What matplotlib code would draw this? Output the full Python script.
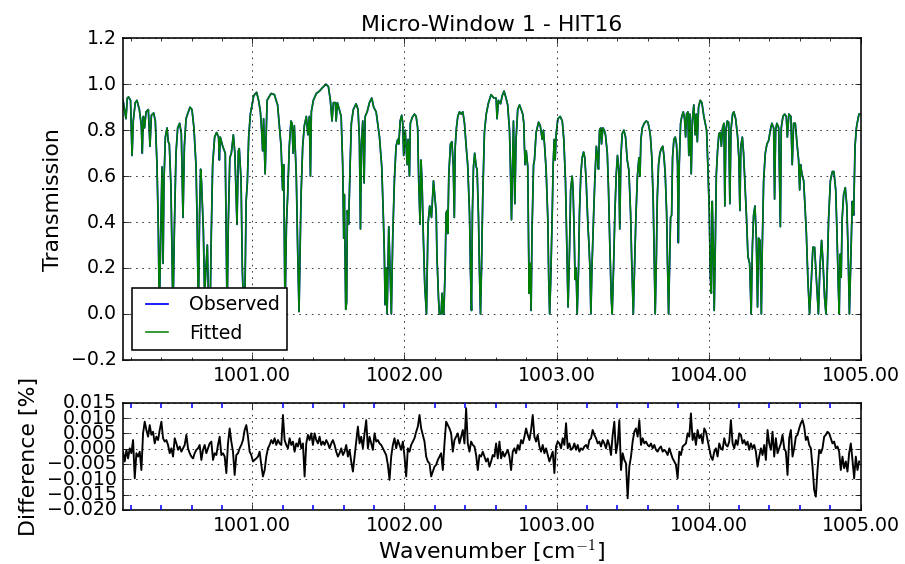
import numpy as np
import matplotlib.pyplot as plt
from matplotlib.ticker import MultipleLocator, FuncFormatter

# transmission spectrum (wavenumber in cm-1)
wavenumber = [
    1000.150, 1000.169, 1000.178, 1000.186, 1000.199, 1000.209, 1000.217, 1000.230, 1000.241, 1000.257,
    1000.270, 1000.276, 1000.283, 1000.291, 1000.301, 1000.316, 1000.327, 1000.336, 1000.351, 1000.362,
    1000.373, 1000.382, 1000.388, 1000.397, 1000.406, 1000.413, 1000.419, 1000.428, 1000.439, 1000.447,
    1000.454, 1000.465, 1000.472, 1000.478, 1000.487, 1000.498, 1000.509, 1000.522, 1000.533, 1000.544,
    1000.553, 1000.564, 1000.574, 1000.590, 1000.603, 1000.616, 1000.630, 1000.638, 1000.645, 1000.653,
    1000.660, 1000.666, 1000.678, 1000.686, 1000.695, 1000.704, 1000.713, 1000.722, 1000.730, 1000.739,
    1000.752, 1000.765, 1000.778, 1000.783, 1000.789, 1000.805, 1000.822, 1000.834, 1000.842, 1000.852,
    1000.862, 1000.875, 1000.885, 1000.899, 1000.908, 1000.914, 1000.926, 1000.934, 1000.943, 1000.952,
    1000.959, 1000.967, 1000.976, 1000.987, 1001.009, 1001.028, 1001.041, 1001.053, 1001.061, 1001.068,
    1001.074, 1001.084, 1001.097, 1001.123, 1001.145, 1001.166, 1001.189, 1001.199, 1001.206, 1001.215,
    1001.224, 1001.232, 1001.243, 1001.254, 1001.261, 1001.268, 1001.276, 1001.289, 1001.299, 1001.307,
    1001.320, 1001.331, 1001.342, 1001.355, 1001.365, 1001.375, 1001.382, 1001.388, 1001.401, 1001.421,
    1001.441, 1001.461, 1001.484, 1001.500, 1001.513, 1001.524, 1001.533, 1001.546, 1001.551, 1001.559,
    1001.572, 1001.584, 1001.594, 1001.601, 1001.605, 1001.614, 1001.620, 1001.625, 1001.633, 1001.643,
    1001.651, 1001.664, 1001.682, 1001.695, 1001.704, 1001.711, 1001.717, 1001.726, 1001.735, 1001.742,
    1001.755, 1001.770, 1001.785, 1001.798, 1001.814, 1001.824, 1001.836, 1001.851, 1001.862, 1001.868,
    1001.873, 1001.880, 1001.886, 1001.897, 1001.906, 1001.914, 1001.923, 1001.934, 1001.945, 1001.956,
    1001.963, 1001.972, 1001.982, 1001.989, 1001.995, 1002.005, 1002.018, 1002.024, 1002.033, 1002.039,
    1002.051, 1002.066, 1002.077, 1002.087, 1002.094, 1002.103, 1002.109, 1002.116, 1002.125, 1002.134,
    1002.145, 1002.155, 1002.166, 1002.178, 1002.191, 1002.209, 1002.214, 1002.224, 1002.230, 1002.241,
    1002.248, 1002.254, 1002.259, 1002.268, 1002.274, 1002.281, 1002.285, 1002.292, 1002.303, 1002.312,
    1002.321, 1002.328, 1002.334, 1002.342, 1002.351, 1002.362, 1002.373, 1002.384, 1002.395, 1002.406,
    1002.416, 1002.428, 1002.434, 1002.441, 1002.447, 1002.454, 1002.462, 1002.472, 1002.478, 1002.487,
    1002.493, 1002.500, 1002.507, 1002.515, 1002.526, 1002.538, 1002.553, 1002.570, 1002.588, 1002.603,
    1002.609, 1002.618, 1002.632, 1002.643, 1002.655, 1002.668, 1002.679, 1002.691, 1002.697, 1002.704,
    1002.711, 1002.717, 1002.726, 1002.734, 1002.745, 1002.757, 1002.768, 1002.778, 1002.785, 1002.789,
    1002.794, 1002.801, 1002.811, 1002.820, 1002.826, 1002.833, 1002.839, 1002.849, 1002.855, 1002.866,
    1002.882, 1002.893, 1002.906, 1002.914, 1002.922, 1002.932, 1002.943, 1002.949, 1002.955, 1002.962,
    1002.972, 1002.978, 1002.985, 1002.991, 1002.998, 1003.009, 1003.024, 1003.038, 1003.048, 1003.059,
    1003.068, 1003.076, 1003.086, 1003.093, 1003.103, 1003.109, 1003.116, 1003.122, 1003.129, 1003.136,
    1003.145, 1003.151, 1003.160, 1003.169, 1003.178, 1003.186, 1003.195, 1003.207, 1003.213, 1003.220,
    1003.226, 1003.233, 1003.239, 1003.246, 1003.253, 1003.262, 1003.270, 1003.276, 1003.283, 1003.291,
    1003.296, 1003.305, 1003.314, 1003.322, 1003.334, 1003.342, 1003.351, 1003.360, 1003.366, 1003.375,
    1003.384, 1003.393, 1003.401, 1003.410, 1003.416, 1003.423, 1003.432, 1003.443, 1003.454, 1003.465,
    1003.476, 1003.487, 1003.495, 1003.505, 1003.513, 1003.522, 1003.532, 1003.542, 1003.549, 1003.555,
    1003.564, 1003.577, 1003.590, 1003.601, 1003.612, 1003.618, 1003.627, 1003.636, 1003.643, 1003.649,
    1003.656, 1003.663, 1003.671, 1003.680, 1003.689, 1003.699, 1003.706, 1003.715, 1003.724, 1003.730,
    1003.737, 1003.743, 1003.750, 1003.757, 1003.763, 1003.772, 1003.781, 1003.789, 1003.796, 1003.801,
    1003.807, 1003.816, 1003.824, 1003.834, 1003.842, 1003.849, 1003.855, 1003.864, 1003.870, 1003.877,
    1003.886, 1003.893, 1003.903, 1003.912, 1003.919, 1003.926, 1003.934, 1003.945, 1003.956, 1003.969,
    1003.978, 1003.987, 1003.995, 1004.005, 1004.011, 1004.018, 1004.024, 1004.031, 1004.037, 1004.044,
    1004.051, 1004.059, 1004.068, 1004.077, 1004.084, 1004.092, 1004.101, 1004.107, 1004.114, 1004.123,
    1004.132, 1004.140, 1004.147, 1004.158, 1004.166, 1004.178, 1004.191, 1004.199, 1004.206, 1004.212,
    1004.222, 1004.230, 1004.241, 1004.250, 1004.259, 1004.270, 1004.280, 1004.288, 1004.296, 1004.305,
    1004.314, 1004.322, 1004.329, 1004.338, 1004.347, 1004.353, 1004.362, 1004.373, 1004.384, 1004.395,
    1004.406, 1004.416, 1004.428, 1004.434, 1004.441, 1004.449, 1004.461, 1004.472, 1004.478, 1004.489,
    1004.500, 1004.511, 1004.518, 1004.528, 1004.541, 1004.550, 1004.559, 1004.570, 1004.583, 1004.592,
    1004.599, 1004.605, 1004.614, 1004.625, 1004.634, 1004.643, 1004.653, 1004.664, 1004.676, 1004.686,
    1004.697, 1004.709, 1004.722, 1004.732, 1004.743, 1004.752, 1004.763, 1004.772, 1004.781, 1004.789,
    1004.801, 1004.814, 1004.824, 1004.836, 1004.844, 1004.853, 1004.859, 1004.865, 1004.872, 1004.878,
    1004.888, 1004.899, 1004.909, 1004.918, 1004.926, 1004.936, 1004.945, 1004.954, 1004.963, 1004.972,
    1004.980, 1004.989, 1005.000,
]

transmission = [
    0.93, 0.85, 0.94, 0.945, 0.93, 0.69, 0.84, 0.92, 0.93, 0.89,
    0.82, 0.70, 0.86, 0.81, 0.88, 0.89, 0.73, 0.865, 0.875, 0.84,
    0.65, 0.36, 0.00, 0.32, 0.64, 0.22, 0.58, 0.77, 0.81, 0.75,
    0.74, 0.55, 0.26, 0.00, 0.36, 0.70, 0.81, 0.83, 0.785, 0.42,
    0.73, 0.85, 0.87, 0.90, 0.89, 0.81, 0.64, 0.36, 0.00, 0.44,
    0.63, 0.57, 0.36, 0.08, 0.20, 0.30, 0.02, 0.00, 0.35, 0.65,
    0.77, 0.79, 0.77, 0.67, 0.77, 0.73, 0.70, 0.00, 0.40, 0.68,
    0.70, 0.78, 0.70, 0.39, 0.71, 0.72, 0.58, 0.20, 0.00, 0.12,
    0.49, 0.57, 0.77, 0.87, 0.95, 0.965, 0.93, 0.88, 0.80, 0.71,
    0.85, 0.61, 0.93, 0.96, 0.955, 0.91, 0.73, 0.54, 0.65, 0.00,
    0.39, 0.51, 0.73, 0.84, 0.83, 0.70, 0.82, 0.60, 0.25, 0.01,
    0.51, 0.73, 0.82, 0.86, 0.78, 0.86, 0.60, 0.88, 0.93, 0.96,
    0.97, 0.985, 1.00, 0.99, 0.93, 0.84, 0.92, 0.92, 0.84, 0.92,
    0.89, 0.86, 0.65, 0.33, 0.52, 0.02, 0.05, 0.45, 0.39, 0.65,
    0.83, 0.89, 0.915, 0.89, 0.76, 0.37, 0.73, 0.84, 0.57, 0.86,
    0.88, 0.92, 0.94, 0.90, 0.88, 0.83, 0.77, 0.64, 0.41, 0.26,
    0.04, 0.20, 0.00, 0.38, 0.17, 0.00, 0.33, 0.58, 0.73, 0.76,
    0.74, 0.84, 0.865, 0.83, 0.69, 0.80, 0.65, 0.76, 0.60, 0.83,
    0.855, 0.87, 0.86, 0.81, 0.58, 0.39, 0.67, 0.57, 0.32, 0.12,
    0.00, 0.39, 0.47, 0.42, 0.58, 0.44, 0.25, 0.07, 0.00, 0.00,
    0.09, 0.00, 0.00, 0.20, 0.44, 0.45, 0.35, 0.61, 0.74, 0.75,
    0.65, 0.42, 0.73, 0.81, 0.86, 0.88, 0.87, 0.88, 0.83, 0.73,
    0.65, 0.44, 0.20, 0.015, 0.44, 0.64, 0.70, 0.64, 0.63, 0.42,
    0.20, 0.00, 0.20, 0.51, 0.79, 0.87, 0.92, 0.955, 0.94, 0.94,
    0.85, 0.93, 0.915, 0.95, 0.97, 0.94, 0.91, 0.80, 0.64, 0.41,
    0.65, 0.84, 0.48, 0.76, 0.89, 0.91, 0.89, 0.87, 0.83, 0.73,
    0.65, 0.71, 0.64, 0.09, 0.22, 0.015, 0.36, 0.65, 0.67, 0.79,
    0.835, 0.82, 0.76, 0.80, 0.73, 0.625, 0.41, 0.15, 0.00, 0.15,
    0.44, 0.65, 0.76, 0.67, 0.785, 0.85, 0.86, 0.84, 0.76, 0.58,
    0.29, 0.03, 0.29, 0.54, 0.60, 0.54, 0.36, 0.15, 0.20, 0.00,
    0.20, 0.44, 0.61, 0.68, 0.705, 0.68, 0.58, 0.38, 0.31, 0.20,
    0.00, 0.20, 0.33, 0.47, 0.60, 0.73, 0.68, 0.63, 0.80, 0.81,
    0.74, 0.81, 0.80, 0.78, 0.70, 0.54, 0.29, 0.07, 0.00, 0.20,
    0.44, 0.61, 0.69, 0.625, 0.37, 0.68, 0.785, 0.80, 0.77, 0.67,
    0.625, 0.44, 0.22, 0.00, 0.20, 0.42, 0.60, 0.68, 0.60, 0.76,
    0.81, 0.83, 0.84, 0.835, 0.80, 0.77, 0.68, 0.49, 0.22, 0.00,
    0.22, 0.51, 0.65, 0.70, 0.72, 0.73, 0.69, 0.61, 0.44, 0.22,
    0.00, 0.20, 0.42, 0.43, 0.68, 0.76, 0.77, 0.74, 0.65, 0.31,
    0.65, 0.83, 0.86, 0.88, 0.85, 0.77, 0.87, 0.88, 0.69, 0.87,
    0.61, 0.84, 0.91, 0.78, 0.87, 0.75, 0.90, 0.93, 0.92, 0.86,
    0.83, 0.80, 0.65, 0.44, 0.17, 0.09, 0.49, 0.29, 0.015, 0.29,
    0.61, 0.71, 0.785, 0.79, 0.73, 0.81, 0.83, 0.47, 0.80, 0.84,
    0.835, 0.48, 0.80, 0.87, 0.88, 0.85, 0.77, 0.68, 0.45, 0.73,
    0.77, 0.70, 0.54, 0.41, 0.25, 0.22, 0.00, 0.29, 0.43, 0.47,
    0.33, 0.03, 0.33, 0.32, 0.00, 0.29, 0.58, 0.70, 0.74, 0.755,
    0.80, 0.83, 0.81, 0.50, 0.80, 0.83, 0.81, 0.38, 0.81, 0.86,
    0.87, 0.86, 0.77, 0.87, 0.86, 0.65, 0.83, 0.83, 0.73, 0.67,
    0.54, 0.65, 0.61, 0.58, 0.47, 0.35, 0.15, 0.00, 0.15, 0.29,
    0.29, 0.15, 0.00, 0.20, 0.32, 0.23, 0.07, 0.00, 0.20, 0.41,
    0.58, 0.62, 0.62, 0.54, 0.36, 0.12, 0.00, 0.26, 0.16, 0.41,
    0.52, 0.55, 0.47, 0.26, 0.00, 0.26, 0.49, 0.43, 0.73, 0.81,
    0.84, 0.87, 0.87,
]

# observed and fitted overlap to within line width
observed = transmission
fitted = transmission

# residual (observed - fitted), in units of 1e-3 %, on the instrument grid
diff_milli = [
    -1.0, -4.2, -0.4, -3.2, 0.1, -1.5, 2.8, -9.7, -1.5, -2.6,
    -1.0, -7.0, 5.0, 8.8, 6.1, 3.9, 7.7, 4.5, 5.5, 1.7,
    3.9, 2.8, 6.1, 8.8, 3.4, 2.3, 2.8, 1.2, -1.5, 0.1,
    -2.6, 3.4, 1.7, -0.4, 0.7, -1.0, 0.1, 1.2, 4.5, 0.1,
    -1.5, -2.6, -3.2, -1.5, -0.4, 0.1, 1.2, -3.7, -0.4, 1.2,
    -1.5, 0.1, 1.7, 2.3, -3.7, -1.5, -2.1, 1.2, 3.9, -2.1,
    -1.5, -2.6, -8.0, 1.7, 6.6, 2.3, -1.0, -8.6, -2.1, -1.5,
    0.1, 1.2, 2.8, 6.1, 7.7, 3.9, -1.0, -2.1, -4.2, -3.7,
    -3.2, -2.6, -1.0, -5.3, -9.1, -7.0, -2.6, 0.1, 1.2, 2.8,
    1.7, 3.4, 1.2, 2.8, 1.7, 1.2, 11.0, 2.8, 1.2, 0.1,
    3.4, 1.2, 2.3, -1.0, 1.7, 0.7, 3.4, 0.1, 1.7, -9.1,
    1.7, 4.5, 2.8, 5.0, 1.2, 5.0, 2.8, 1.7, 3.9, 1.2,
    2.3, 1.2, 2.8, 1.7, 0.1, 1.7, 2.8, 1.2, -1.0, -2.6,
    -1.5, 0.1, -2.1, -1.0, 1.2, -2.6, -0.4, -4.2, -7.5, -2.6,
    2.3, 7.2, 1.7, 3.9, 0.1, 5.0, 9.3, 0.1, 3.9, 1.7,
    -0.4, 5.0, 2.3, 2.8, 1.7, 1.2, 0.1, -1.0, -2.1, -5.3,
    -10.2, -2.6, 1.2, 3.4, 0.1, 2.8, 1.2, -0.4, 2.3, -2.6,
    -9.1, 0.1, -1.0, 1.2, 2.3, 3.4, 5.5, 7.2, 11.0, 6.6,
    4.5, 2.3, -2.6, -4.2, -4.8, -9.1, -7.5, -5.9, -5.3, -3.7,
    -2.6, -1.5, -7.0, 1.7, 8.8, 7.7, 6.6, 5.0, -1.0, 2.8,
    3.9, 5.0, 1.7,
    3.9, 6.1, 1.7, 13.2, 1.7, -1.0, 2.3, 1.2, 0.7, -2.1,
    -7.0, -2.1, -2.6, -1.0, -2.6, -4.2, -3.2, -5.9, -4.2, -2.1,
    -2.6, 1.7, -3.2, 2.3, -3.2, -1.0, -2.6, -1.5, -0.4, -2.6,
    -7.0, -1.0, 0.1, -1.5, 1.2, -0.4, 2.8, 1.7, 3.9, 6.6,
    4.5, 2.8, 6.1, 11.0, 3.9, 2.3, 4.5, 0.7, -1.0, 1.2,
    -1.5, 0.1, -2.1, -4.2, -2.6, -1.0, -8.0, 0.7, 2.3, 1.7,
    0.1, 3.4, 1.2, 8.3, 0.1, 1.7, -0.4, 0.1, 1.7, -0.4,
    1.2, -1.0, 0.1, -0.4, 0.7, 1.2, 0.1, 2.8, 3.4, 6.1,
    4.5, 3.4, 1.7, 2.3, 0.7, 2.8, 1.7, 0.1, 2.8, 1.2,
    -2.1, 4.5, 8.8, -1.5, 1.7, 9.3, -7.0, -1.5, -3.7, -4.8,
    -16.2, -5.9, -2.6, 2.3, 5.5, 6.6, 3.9, 9.3, 1.2, 3.4,
    1.7, 2.3, 1.2, 0.7, 1.7, 0.1, 1.2, -0.4, -1.0, 0.1,
    0.7, -1.0, -0.4, -1.0, -2.1, 0.1, -1.5, -3.2, -4.2, -5.3,
    -9.7, -1.0, -2.1, 0.7, 1.2, 1.7, 5.0, 3.9, 11.5, 2.8,
    5.0, 1.2, 6.1, 3.4, 4.5, 1.7, 6.6, 5.5, 2.8, 0.1,
    -2.6, -3.7, -1.0, 0.1, -2.6, 1.7, 0.1, -0.4, 3.4, 1.2,
    0.7, 2.3, 9.3, 1.7, 0.1, 2.8, 1.2, 5.0, 4.5, 1.7,
    2.8, 1.2, 2.3, -0.4, 1.7, 0.1, 1.2, -1.0, -5.9, -2.6,
    0.1, -2.1, 1.2, -3.7, 6.1, 1.7, -0.4, 5.5, -2.6, 3.4,
    -1.5, 0.1, 1.7, 4.5, 0.1, -1.0, -8.6, 3.4, 6.1, -2.6,
    0.1, 3.9, 4.5, 6.6, 8.3, 9.3, 7.2, 2.8, 3.9, 1.2,
    0.1, -5.9, -13.5, -15.7, -7.0, -0.4, -1.5, 0.1, 3.9, 4.5,
    5.5, 5.0, 3.4, 1.7, 2.3, 0.1, 0.7, -1.0, -7.0, -2.6,
    -6.4, -4.2, -7.5, -1.5, 1.7, -3.7, -9.7, -2.6, -7.0, -4.2,
]
difference = np.array(diff_milli) / 1000.0
diff_wn = np.linspace(1000.15, 1004.99, len(difference))


def fmt(pattern):
    return FuncFormatter(lambda v, pos: (pattern % v).replace('-', '\u2212'))


plt.style.use('classic')

fig = plt.figure(figsize=(905 / 113, 564 / 113), dpi=113, facecolor='white')
ax1 = fig.add_axes([0.136, 0.362, 0.815, 0.570])
ax2 = fig.add_axes([0.136, 0.096, 0.815, 0.190])

ax1.plot(wavenumber, observed, 'b', lw=1.1, label='Observed')
ax1.plot(wavenumber, fitted, 'g', lw=1.0, label='Fitted')
ax1.set_xlim(1000.15, 1005.0)
ax1.set_ylim(-0.2, 1.2)
ax1.xaxis.set_major_locator(MultipleLocator(1.0))
ax1.xaxis.set_minor_locator(MultipleLocator(0.2))
ax1.yaxis.set_major_locator(MultipleLocator(0.2))
ax1.xaxis.set_major_formatter(fmt('%.2f'))
ax1.yaxis.set_major_formatter(fmt('%.1f'))
ax1.grid(True)
ax1.set_ylabel('Transmission', fontsize=14)
ax1.set_title('Micro-Window 1 - HIT16', fontsize=14)
ax1.legend(loc='lower left', fontsize=12, handlelength=1.8)

ax2.plot(diff_wn, difference, 'k', lw=1.2)
ax2.set_xlim(1000.15, 1005.0)
ax2.set_ylim(-0.020, 0.015)
ax2.xaxis.set_major_locator(MultipleLocator(1.0))
ax2.xaxis.set_minor_locator(MultipleLocator(0.2))
ax2.yaxis.set_major_locator(MultipleLocator(0.005))
ax2.xaxis.set_major_formatter(fmt('%.2f'))
ax2.yaxis.set_major_formatter(fmt('%.3f'))
ax2.tick_params(axis='x', which='minor', color='b', width=1.0, length=3.5)
ax2.grid(True)
ax2.set_xlabel('Wavenumber [cm$^{-1}$]', fontsize=14, labelpad=1)
ax2.set_ylabel('Difference [%]', fontsize=14)

fig.savefig('out.png', dpi=113, facecolor='white')
